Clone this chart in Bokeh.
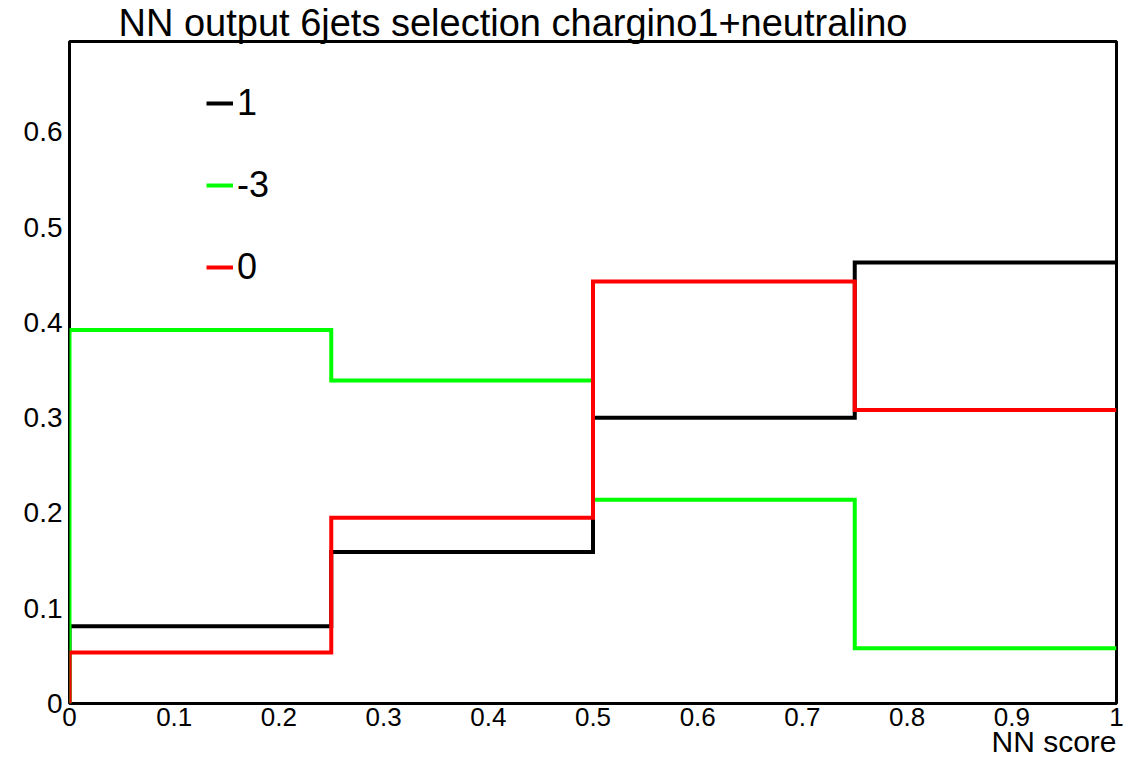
from bokeh.plotting import figure
from bokeh.embed import file_html
from bokeh.resources import INLINE
from bokeh.models import Range1d, FixedTicker, Legend, LegendItem, Title

# ---- data ----
bin_edges = [0.0, 0.25, 0.5, 0.75, 1.0]
series_names = ["1", "-3", "0"]
vals_1 = [0.081, 0.159, 0.300, 0.463]
vals_m3 = [0.392, 0.339, 0.214, 0.058]
vals_0 = [0.0535, 0.195, 0.443, 0.308]
colors = ["#000000", "#00ff00", "#ff0000"]
x_ticks = [0, 0.1, 0.2, 0.3, 0.4, 0.5, 0.6, 0.7, 0.8, 0.9, 1.0]
x_tick_labels = ["0", "0.1", "0.2", "0.3", "0.4", "0.5", "0.6", "0.7", "0.8", "0.9", "1"]
y_ticks = [0, 0.1, 0.2, 0.3, 0.4, 0.5, 0.6]
y_tick_labels = ["0", "0.1", "0.2", "0.3", "0.4", "0.5", "0.6"]
title_text = "NN output 6jets selection chargino1+neutralino"
x_label = "NN score"

FONT = "Liberation Sans"

p = figure(width=1132, height=761, output_backend="svg", toolbar_location=None,
           x_range=Range1d(0, 1), y_range=Range1d(0, 0.695),
           min_border_left=69, min_border_right=16, min_border_top=41, min_border_bottom=58)
p.title.visible = False
p.xgrid.visible = False
p.ygrid.visible = False
p.outline_line_color = "black"
p.outline_line_width = 3
p.background_fill_color = "white"
p.border_fill_color = "white"

for ax in (p.xaxis[0], p.yaxis[0]):
    ax.axis_line_color = None
    ax.major_tick_line_color = None
    ax.minor_tick_line_color = None
    ax.major_tick_out = 0
    ax.major_tick_in = 0
    ax.minor_tick_out = 0
    ax.minor_tick_in = 0
    ax.major_label_text_font = FONT
    ax.major_label_text_color = "black"

p.xaxis.major_label_text_font_size = "26px"
p.yaxis.major_label_text_font_size = "28px"
p.xaxis.ticker = FixedTicker(ticks=x_ticks)
p.xaxis.major_label_overrides = {t: l for t, l in zip(x_ticks, x_tick_labels)}
p.xaxis.major_label_standoff = 4
p.yaxis.ticker = FixedTicker(ticks=y_ticks)
p.yaxis.major_label_overrides = {t: l for t, l in zip(y_ticks, y_tick_labels)}
p.yaxis.major_label_standoff = 7


def step_xy(edges, vals):
    xs = [edges[0]]
    ys = [0.0]
    for i, v in enumerate(vals):
        xs += [edges[i], edges[i + 1]]
        ys += [v, v]
    return xs, ys


items = []
for name, vals, c in zip(series_names, [vals_1, vals_m3, vals_0], colors):
    xs, ys = step_xy(bin_edges, vals)
    r = p.line(xs, ys, line_color=c, line_width=4, line_join="miter")
    items.append(LegendItem(label=name, renderers=[r]))

legend = Legend(items=items, location=(137, 415), orientation="vertical",
                border_line_color=None, background_fill_alpha=0,
                label_text_font=FONT, label_text_font_size="36px", label_text_color="black",
                glyph_width=27, glyph_height=20, label_height=20, label_standoff=4,
                spacing=40, padding=0, margin=0)
p.add_layout(legend, "center")

t = Title(text=title_text, text_font=FONT, text_font_size="38px", text_font_style="normal",
          text_color="black", align="left", offset=49, standoff=-4)
p.add_layout(t, "above")

xl = Title(text=x_label, text_font=FONT, text_font_size="30px", text_font_style="normal",
           text_color="black", align="right", standoff=-12)
p.add_layout(xl, "below")

open("out.html", "w").write(file_html(p, INLINE))
